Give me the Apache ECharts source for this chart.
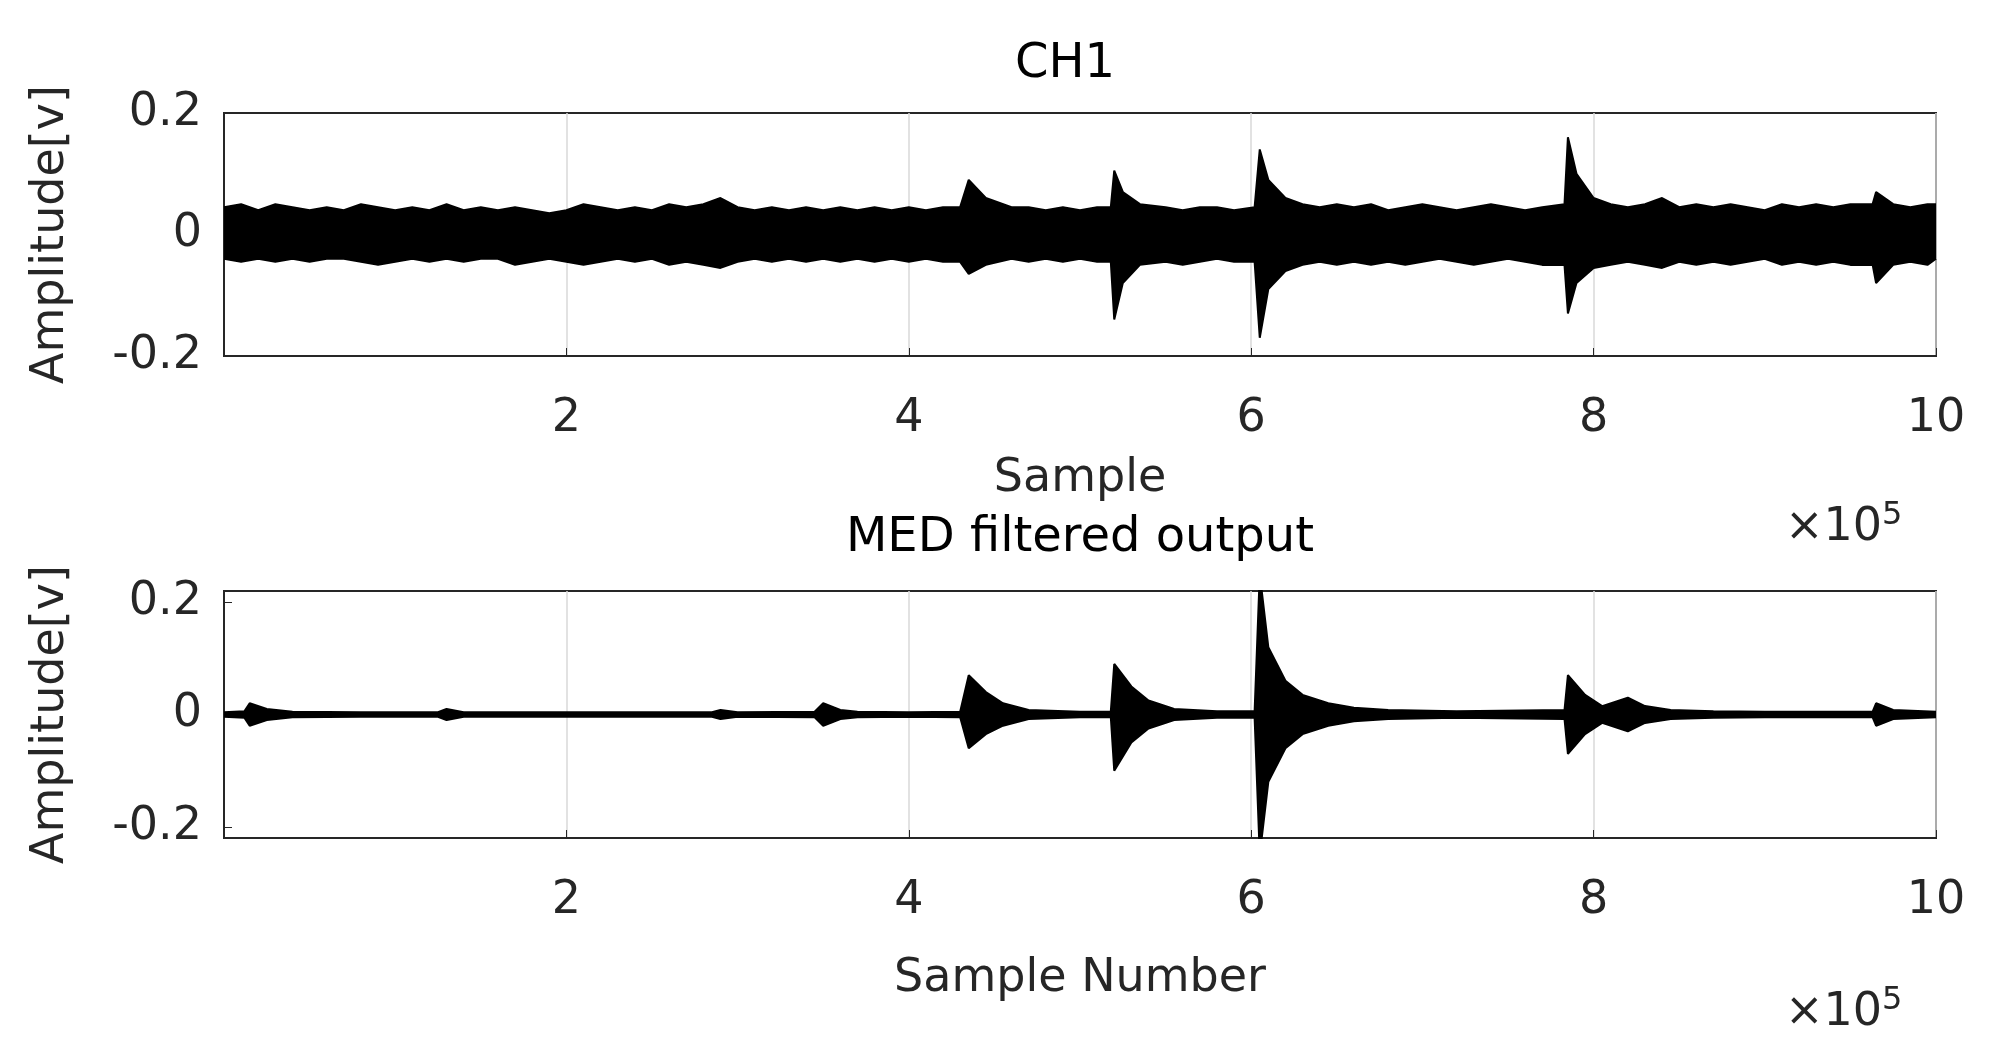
<!DOCTYPE html>
<html>
<head>
<meta charset="utf-8">
<script src="https://cdn.jsdelivr.net/npm/echarts@6/dist/echarts.min.js"></script>
<style>html,body{margin:0;background:#fff}#chart{width:1996px;height:1057px}</style>
</head>
<body>
<div id="chart"></div>
<script>
// envelope of CH1 signal (x in units of 1e5 samples)
var topX = [0,0.1,0.2,0.3,0.4,0.5,0.6,0.7,0.8,0.9,1.0,1.1,1.2,1.3,1.4,1.5,1.6,1.7,1.8,1.9,2.0,2.1,2.2,2.3,2.4,2.5,2.6,2.7,2.8,2.9,3.0,3.1,3.2,3.3,3.4,3.5,3.6,3.7,3.8,3.9,4.0,4.1,4.2,4.3,4.35,4.45,4.6,4.7,4.8,4.9,5.0,5.1,5.18,5.2,5.25,5.35,5.5,5.6,5.7,5.8,5.9,6.02,6.05,6.1,6.2,6.3,6.4,6.5,6.6,6.7,6.8,6.9,7.0,7.1,7.2,7.3,7.4,7.5,7.6,7.7,7.83,7.85,7.9,8.0,8.1,8.2,8.3,8.4,8.5,8.6,8.7,8.8,8.9,9.0,9.1,9.2,9.3,9.4,9.5,9.63,9.65,9.75,9.85,9.95,10];
var topUpper = [0.045,0.05,0.04,0.05,0.045,0.04,0.045,0.04,0.05,0.045,0.04,0.045,0.04,0.05,0.04,0.045,0.04,0.045,0.04,0.035,0.04,0.05,0.045,0.04,0.045,0.04,0.05,0.045,0.05,0.06,0.045,0.04,0.045,0.04,0.045,0.04,0.045,0.04,0.045,0.04,0.045,0.04,0.045,0.045,0.09,0.06,0.045,0.045,0.04,0.045,0.04,0.045,0.045,0.105,0.07,0.05,0.045,0.04,0.045,0.045,0.04,0.045,0.14,0.09,0.06,0.05,0.045,0.05,0.045,0.05,0.04,0.045,0.05,0.045,0.04,0.045,0.05,0.045,0.04,0.045,0.05,0.16,0.1,0.06,0.05,0.045,0.05,0.06,0.045,0.05,0.045,0.05,0.045,0.04,0.05,0.045,0.05,0.045,0.05,0.05,0.07,0.05,0.045,0.05,0.05];
var topLower = [-0.04,-0.045,-0.04,-0.045,-0.04,-0.045,-0.04,-0.04,-0.045,-0.05,-0.045,-0.04,-0.045,-0.04,-0.045,-0.04,-0.04,-0.05,-0.045,-0.04,-0.045,-0.05,-0.045,-0.04,-0.045,-0.04,-0.05,-0.045,-0.05,-0.055,-0.045,-0.04,-0.045,-0.04,-0.045,-0.04,-0.045,-0.04,-0.045,-0.04,-0.045,-0.04,-0.045,-0.045,-0.065,-0.05,-0.04,-0.045,-0.04,-0.045,-0.04,-0.045,-0.045,-0.14,-0.08,-0.05,-0.045,-0.05,-0.045,-0.04,-0.045,-0.045,-0.17,-0.09,-0.06,-0.05,-0.045,-0.05,-0.045,-0.05,-0.045,-0.05,-0.045,-0.04,-0.045,-0.05,-0.045,-0.04,-0.045,-0.05,-0.05,-0.13,-0.08,-0.055,-0.05,-0.045,-0.05,-0.055,-0.045,-0.05,-0.045,-0.05,-0.045,-0.04,-0.05,-0.045,-0.05,-0.045,-0.05,-0.05,-0.08,-0.05,-0.045,-0.05,-0.04];

// envelope of MED filtered output
var botX = [0,0.12,0.15,0.25,0.4,0.8,1.25,1.3,1.4,2.0,2.5,2.85,2.9,3.0,3.45,3.5,3.6,3.7,4.0,4.3,4.35,4.45,4.55,4.7,5.0,5.18,5.2,5.3,5.4,5.55,5.8,6.02,6.05,6.1,6.2,6.3,6.45,6.6,6.8,7.2,7.83,7.85,7.95,8.05,8.2,8.3,8.45,8.7,9.0,9.3,9.63,9.65,9.75,10];
var botUpper = [0.004,0.006,0.02,0.01,0.005,0.004,0.004,0.01,0.004,0.004,0.004,0.004,0.008,0.004,0.005,0.02,0.008,0.005,0.004,0.005,0.07,0.04,0.02,0.008,0.005,0.005,0.09,0.05,0.025,0.01,0.006,0.006,0.25,0.12,0.06,0.035,0.02,0.012,0.008,0.006,0.008,0.07,0.035,0.015,0.03,0.015,0.008,0.006,0.005,0.005,0.005,0.02,0.008,0.005];
var botLower = [-0.004,-0.006,-0.02,-0.01,-0.005,-0.004,-0.004,-0.01,-0.004,-0.004,-0.004,-0.004,-0.008,-0.004,-0.005,-0.02,-0.008,-0.005,-0.004,-0.005,-0.06,-0.035,-0.02,-0.008,-0.005,-0.005,-0.1,-0.05,-0.025,-0.01,-0.006,-0.006,-0.25,-0.12,-0.06,-0.035,-0.02,-0.012,-0.008,-0.006,-0.008,-0.07,-0.035,-0.015,-0.03,-0.015,-0.008,-0.006,-0.005,-0.005,-0.005,-0.02,-0.008,-0.005];

var yTicks = [-0.2, 0, 0.2];

function pairs(xs, ys) { return xs.map((x, i) => [x, ys[i]]); }

function band(xi, yi, xs, ys) {
    return {
        type: 'line', xAxisIndex: xi, yAxisIndex: yi, data: pairs(xs, ys),
        symbol: 'none', lineStyle: { color: '#000', width: 2 },
        areaStyle: { color: '#000', opacity: 1, origin: 0 }, animation: false
    };
}
function zeroLine(xi, yi) {
    return {
        type: 'line', xAxisIndex: xi, yAxisIndex: yi, data: [[0, 0], [10, 0]],
        symbol: 'none', lineStyle: { color: '#000', width: 4 }, animation: false
    };
}

var font = 'DejaVu Sans';
var ink = '#262626';
function xAxis(idx, name, gap) {
    return {
        type: 'value', gridIndex: idx, min: 0, max: 10, interval: 2,
        name: name, nameLocation: 'middle', nameGap: gap,
        nameTextStyle: { fontFamily: font, fontSize: 46, color: ink },
        axisLine: { onZero: false, lineStyle: { color: ink, width: 2 } },
        axisTick: { inside: true, length: 8, lineStyle: { color: ink } },
        axisLabel: { showMinLabel: false, fontFamily: font, fontSize: 46, color: ink, margin: 40 },
        splitLine: { show: true, lineStyle: { color: '#d9d9d9', width: 1.5 } }
    };
}
function yAxis(idx, min, max) {
    return {
        type: 'value', gridIndex: idx, min: min, max: max,
        name: 'Amplitude[v]', nameLocation: 'middle', nameGap: 150, nameRotate: 90,
        nameTextStyle: { fontFamily: font, fontSize: 46, color: ink },
        axisLine: { show: true, lineStyle: { color: ink, width: 2 } },
        axisTick: { inside: true, length: 8, customValues: yTicks, lineStyle: { color: ink } },
        axisLabel: { customValues: yTicks, fontFamily: font, fontSize: 46, color: ink, margin: 22,
            formatter: v => v === 0 ? '0' : String(v) },
        splitLine: { show: false }
    };
}

var chart = echarts.init(document.getElementById('chart'));
var sup = { a: { fontFamily: font, fontSize: 46, fill: ink }, b: { fontFamily: font, fontSize: 32, fill: ink, verticalAlign: 'top', padding: [0, 0, 24, 0] } };
var option = {
    backgroundColor: '#fff',
    title: [
        { text: 'CH1', left: 1060, top: 36, textAlign: 'center', textStyle: { fontFamily: font, fontSize: 48, fontWeight: 'normal', color: '#000' } },
        { text: 'MED filtered output', left: 1075, top: 510, textAlign: 'center', textStyle: { fontFamily: font, fontSize: 48, fontWeight: 'normal', color: '#000' } }
    ],
    grid: [
        { left: 224, right: 60, top: 113, height: 243, show: true, borderColor: ink, borderWidth: 2 },
        { left: 224, right: 60, top: 591, height: 247, show: true, borderColor: ink, borderWidth: 2 }
    ],
    xAxis: [xAxis(0, 'Sample', 100), xAxis(1, 'Sample Number', 118)],
    yAxis: [yAxis(0, -0.2, 0.2), yAxis(1, -0.22, 0.22)],
    series: [
        band(0, 0, topX, topUpper), band(0, 0, topX, topLower), zeroLine(0, 0),
        band(1, 1, botX, botUpper), band(1, 1, botX, botLower), zeroLine(1, 1)
    ],
    graphic: [
        { type: 'text', left: 1785, top: 500, style: { text: '{a|×10}{b|5}', rich: sup } },
        { type: 'text', left: 1785, top: 985, style: { text: '{a|×10}{b|5}', rich: sup } }
    ]
};
chart.setOption(option);
</script>
</body>
</html>
